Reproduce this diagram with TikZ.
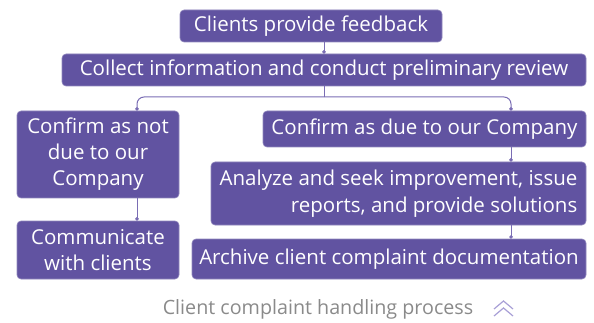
\documentclass[tikz,border=0pt]{standalone}
\usepackage{fontspec}
\setmainfont{Open Sans}
\usetikzlibrary{arrows.meta,calc}
\definecolor{boxfill}{HTML}{6153A1}
\definecolor{linecol}{HTML}{7A6DB4}
\definecolor{captioncol}{HTML}{8A8A8A}
\definecolor{chevcol}{HTML}{A89FD6}
\begin{document}
\begin{tikzpicture}[x=1pt,y=-1pt,
  box/.style={draw=boxfill!70!white, line width=0.6pt, fill=boxfill, rounded corners=4pt, text=white,
    font=\fontsize{20.5pt}{26pt}\selectfont, inner sep=0pt, align=center},
  conn/.style={draw=linecol, line width=1pt, -{Circle[length=3.5pt]}},
  plain/.style={draw=linecol, line width=1pt}]
\useasboundingbox (0,0) rectangle (594,323);
\node[box, minimum width=262pt, minimum height=32pt] (b1) at (311,26) {Clients provide feedback};
\node[box, minimum width=524pt, minimum height=32pt] (b2) at (324,70) {Collect information and conduct preliminary review};
\node[box, minimum width=162pt, minimum height=87pt] (b3) at (98,154.5) {Confirm as not\\due to our\\Company};
\node[box, minimum width=323pt, minimum height=36pt] (b4) at (424.5,129) {Confirm as due to our Company};
\node[box, minimum width=162pt, minimum height=58pt] (b5) at (98,250) {Communicate\\with clients};
\node[box, minimum width=375pt, minimum height=63pt, align=right, font=\fontsize{20.5pt}{27pt}\selectfont] (b6) at (398.5,193.5) {Analyze and seek improvement, issue\\reports, and provide solutions};
\node[box, minimum width=394pt, minimum height=40pt] (b7) at (389,259) {Archive client complaint documentation};
\coordinate (br) at (324,97);
\coordinate (lx) at (137,0);
\coordinate (rx) at (511,0);
\draw[conn] (b1.south -| b2.center) -- (b2.north);
\draw[plain] (b2.south) -- (br);
\draw[conn, rounded corners=7pt] (br) -| (lx |- b3.north);
\draw[conn, rounded corners=7pt] (br) -| (rx |- b4.north);
\draw[conn] (lx |- b3.south) -- (lx |- b5.north);
\draw[conn] (rx |- b4.south) -- (rx |- b6.north);
\draw[conn] (rx |- b6.south) -- (rx |- b7.north);
\node[text=captioncol, font=\fontsize{19.7pt}{22pt}\selectfont, inner sep=0pt] (cap) at (318,309) {Client complaint handling process};
\draw[chevcol, line width=1.2pt] (494,309) -- (503.5,301) -- (513,309);
\draw[chevcol, line width=1.2pt] (494,316) -- (503.5,308) -- (513,316);
\end{tikzpicture}
\end{document}
